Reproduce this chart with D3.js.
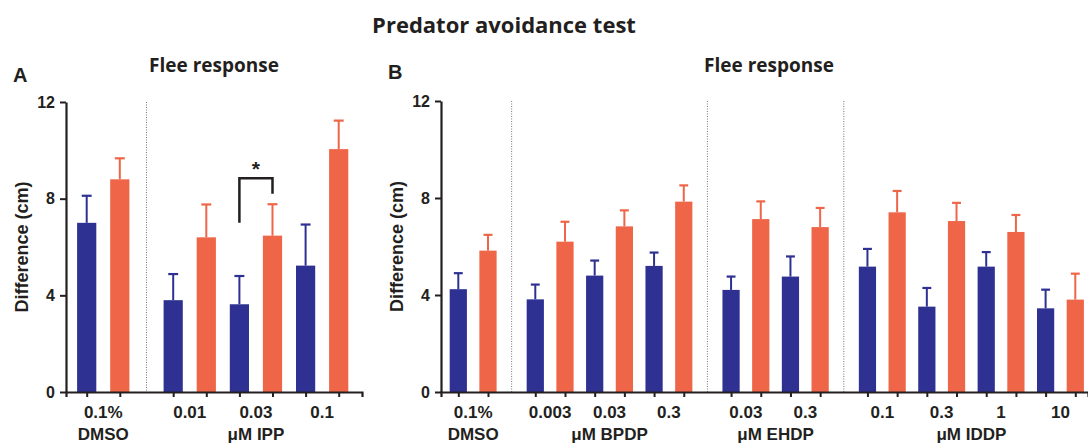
<!DOCTYPE html>
<meta charset="utf-8">
<style>
  body { margin: 0; background: #fff; }
  svg text { fill: #231f20; }
</style>
<svg id="chart" width="1088" height="443"></svg>
<script src="https://cdn.jsdelivr.net/npm/d3@7"></script>
<script>

// ---- data ----
var yTicks = [0, 4, 8, 12];

// panel A : IPP
var concA = ["0.1%", "0.01", "0.03", "0.1"];
var groupA = ["DMSO", "\u03bcM IPP"];
var groupSizeA = [1, 3];
var blueMeanA = [7.0, 3.8, 3.63, 5.23];
var blueErrA = [1.12, 1.08, 1.17, 1.70];
var orangeMeanA = [8.8, 6.4, 6.47, 10.05];
var orangeErrA = [0.87, 1.36, 1.30, 1.18];

// significance bracket in A: pair index, bracket top, left leg end, right leg end
var sigA = [{ pair: 2, top: 8.85, left: 7.0, right: 8.2, label: "*" }];

// panel B : BPDP, EHDP, IDDP
var concB = ["0.1%", "0.003", "0.03", "0.3", "0.03", "0.3", "0.1", "0.3", "1", "10"];
var groupB = ["DMSO", "\u03bcM BPDP", "\u03bcM EHDP", "\u03bcM IDDP"];
var groupSizeB = [1, 3, 2, 4];
var blueMeanB = [4.24, 3.82, 4.8, 5.2, 4.21, 4.76, 5.17, 3.52, 5.17, 3.45];
var blueErrB = [0.66, 0.61, 0.62, 0.55, 0.55, 0.83, 0.73, 0.77, 0.60, 0.77];
var orangeMeanB = [5.83, 6.2, 6.83, 7.85, 7.13, 6.8, 7.41, 7.05, 6.6, 3.81];
var orangeErrB = [0.65, 0.82, 0.66, 0.67, 0.73, 0.79, 0.88, 0.75, 0.70, 1.07];

var blue = "#2e3192",
    orange = "#ee6547",
    ink = "#231f20";

var svg = d3.select("#chart");

// titles
svg.append("text")
    .attr("x", 504).attr("y", 33)
    .attr("text-anchor", "middle")
    .style("font", "bold 22px 'Open Sans'")
    .text("Predator avoidance test");

function panel(cfg) {
    var n = cfg.conc.length;
    // group index for each pair
    var gIdx = [];
    cfg.groupSize.forEach(function (s, g) { for (var k = 0; k < s; k++) gIdx.push(g); });

    function u(p, s) { return 2 * p + s + gIdx[p] * cfg.gap; }
    var uLast = u(n - 1, 1);

    var x = d3.scaleLinear().domain([0, uLast]).range([cfg.first, cfg.last]);
    var slot = x(1) - x(0);
    var y = d3.scaleLinear().domain([0, 12]).range([cfg.y0, cfg.y1]);

    var g = svg.append("g");

    // separators between groups
    var start = 0;
    cfg.groupSize.forEach(function (s, gi) {
        if (gi > 0) {
            var sx = x((u(start - 1, 1) + u(start, 0)) / 2);
            g.append("line")
                .attr("x1", sx).attr("x2", sx)
                .attr("y1", y(12)).attr("y2", y(0))
                .attr("stroke", "#777")
                .attr("stroke-width", 1)
                .attr("stroke-dasharray", "1,1.5");
        }
        start += s;
    });

    var bars = [];
    for (var p = 0; p < n; p++) {
        bars.push({ u: u(p, 0), v: cfg.blueMean[p], e: cfg.blueErr[p], c: blue });
        bars.push({ u: u(p, 1), v: cfg.orangeMean[p], e: cfg.orangeErr[p], c: orange });
    }
    var bw = slot * 0.58, cw = slot * 0.3;

    g.selectAll(".err").data(bars).enter().append("line")
        .attr("x1", function (d) { return x(d.u); })
        .attr("x2", function (d) { return x(d.u); })
        .attr("y1", function (d) { return y(d.v); })
        .attr("y2", function (d) { return y(d.v + d.e); })
        .attr("stroke", function (d) { return d.c; })
        .attr("stroke-width", 2);
    g.selectAll(".cap").data(bars).enter().append("line")
        .attr("x1", function (d) { return x(d.u) - cw / 2; })
        .attr("x2", function (d) { return x(d.u) + cw / 2; })
        .attr("y1", function (d) { return y(d.v + d.e); })
        .attr("y2", function (d) { return y(d.v + d.e); })
        .attr("stroke", function (d) { return d.c; })
        .attr("stroke-width", 2.2);
    g.selectAll(".bar").data(bars).enter().append("rect")
        .attr("x", function (d) { return x(d.u) - bw / 2; })
        .attr("width", bw)
        .attr("y", function (d) { return y(d.v); })
        .attr("height", function (d) { return y(0) - y(d.v); })
        .attr("fill", function (d) { return d.c; });

    // x axis: line + a tick under every bar
    var xa = d3.scaleLinear()
        .domain([x.invert(cfg.axisX), x.invert(cfg.axisEnd)])
        .range([cfg.axisX, cfg.axisEnd]);
    var xAxis = g.append("g")
        .attr("transform", "translate(0," + y(0) + ")")
        .call(d3.axisBottom(xa)
            .tickValues(bars.map(function (d) { return d.u; }))
            .tickFormat("")
            .tickSizeOuter(0)
            .tickSize(5));
    xAxis.select(".domain").attr("stroke", ink).attr("stroke-width", 2.2);
    xAxis.selectAll(".tick line").attr("stroke", ink).attr("stroke-width", 2);

    // y axis
    var yAxis = g.append("g")
        .attr("transform", "translate(" + cfg.axisX + ",0)")
        .call(d3.axisLeft(y).tickValues(yTicks).tickSize(6).tickSizeOuter(0).tickPadding(5));
    yAxis.select(".domain").attr("stroke", ink).attr("stroke-width", 2.2);
    yAxis.selectAll(".tick line").attr("stroke", ink).attr("stroke-width", 2);
    yAxis.selectAll(".tick text")
        .attr("fill", ink)
        .attr("font-family", null).attr("font-size", null)
        .style("font", "bold 16px 'Liberation Sans'");

    // concentration labels
    g.selectAll(".conc").data(cfg.conc).enter().append("text")
        .attr("x", function (d, i) { return x(u(i, 0) + 0.5); })
        .attr("y", 418)
        .attr("text-anchor", "middle")
        .style("font", "bold 17px 'Liberation Sans'")
        .text(function (d) { return d; });

    // group labels
    var s0 = 0;
    cfg.groups.forEach(function (name, gi) {
        var a = u(s0, 0), b = u(s0 + cfg.groupSize[gi] - 1, 1);
        g.append("text")
            .attr("x", x((a + b) / 2))
            .attr("y", 440)
            .attr("text-anchor", "middle")
            .style("font", "bold 17px 'Liberation Sans'")
            .text(name);
        s0 += cfg.groupSize[gi];
    });

    // axis title
    g.append("text")
        .attr("transform", "translate(" + cfg.labelX + "," + ((y(0) + y(12)) / 2) + ") rotate(-90)")
        .attr("text-anchor", "middle")
        .style("font", "bold 18px 'Liberation Sans'")
        .text("Difference (cm)");

    // panel letter and subtitle
    g.append("text")
        .attr("x", cfg.letterX).attr("y", cfg.letterY)
        .style("font", "bold 20px 'Liberation Sans'")
        .text(cfg.letter);
    g.append("text")
        .attr("x", cfg.titleX).attr("y", 72)
        .attr("text-anchor", "middle")
        .style("font", "bold 19px 'Open Sans'")
        .text("Flee response");

    // significance brackets
    (cfg.sig || []).forEach(function (s) {
        var xl = x(u(s.pair, 0)), xr = x(u(s.pair, 1));
        g.append("path")
            .attr("d", d3.line()([[xl, y(s.left)], [xl, y(s.top)], [xr, y(s.top)], [xr, y(s.right)]]))
            .attr("fill", "none")
            .attr("stroke", ink)
            .attr("stroke-width", 2.5);
        g.append("text")
            .attr("x", (xl + xr) / 2)
            .attr("y", y(s.top) - 2)
            .attr("text-anchor", "middle")
            .style("font", "bold 21px 'Liberation Sans'")
            .text(s.label);
    });
}

panel({
    conc: concA, groups: groupA, groupSize: groupSizeA,
    blueMean: blueMeanA, blueErr: blueErrA,
    orangeMean: orangeMeanA, orangeErr: orangeErrA,
    sig: sigA,
    gap: 0.613, first: 86.7, last: 338.7,
    axisX: 66, axisEnd: 362, y0: 392, y1: 102,
    labelX: 28, letter: "A", letterX: 13, letterY: 82, titleX: 214
});

panel({
    conc: concB, groups: groupB, groupSize: groupSizeB,
    blueMean: blueMeanB, blueErr: blueErrB,
    orangeMean: orangeMeanB, orangeErr: orangeErrB,
    gap: 0.593, first: 458.3, last: 1075.3,
    axisX: 441, axisEnd: 1088, y0: 392, y1: 101,
    labelX: 403, letter: "B", letterX: 388, letterY: 79, titleX: 769
});

</script>
